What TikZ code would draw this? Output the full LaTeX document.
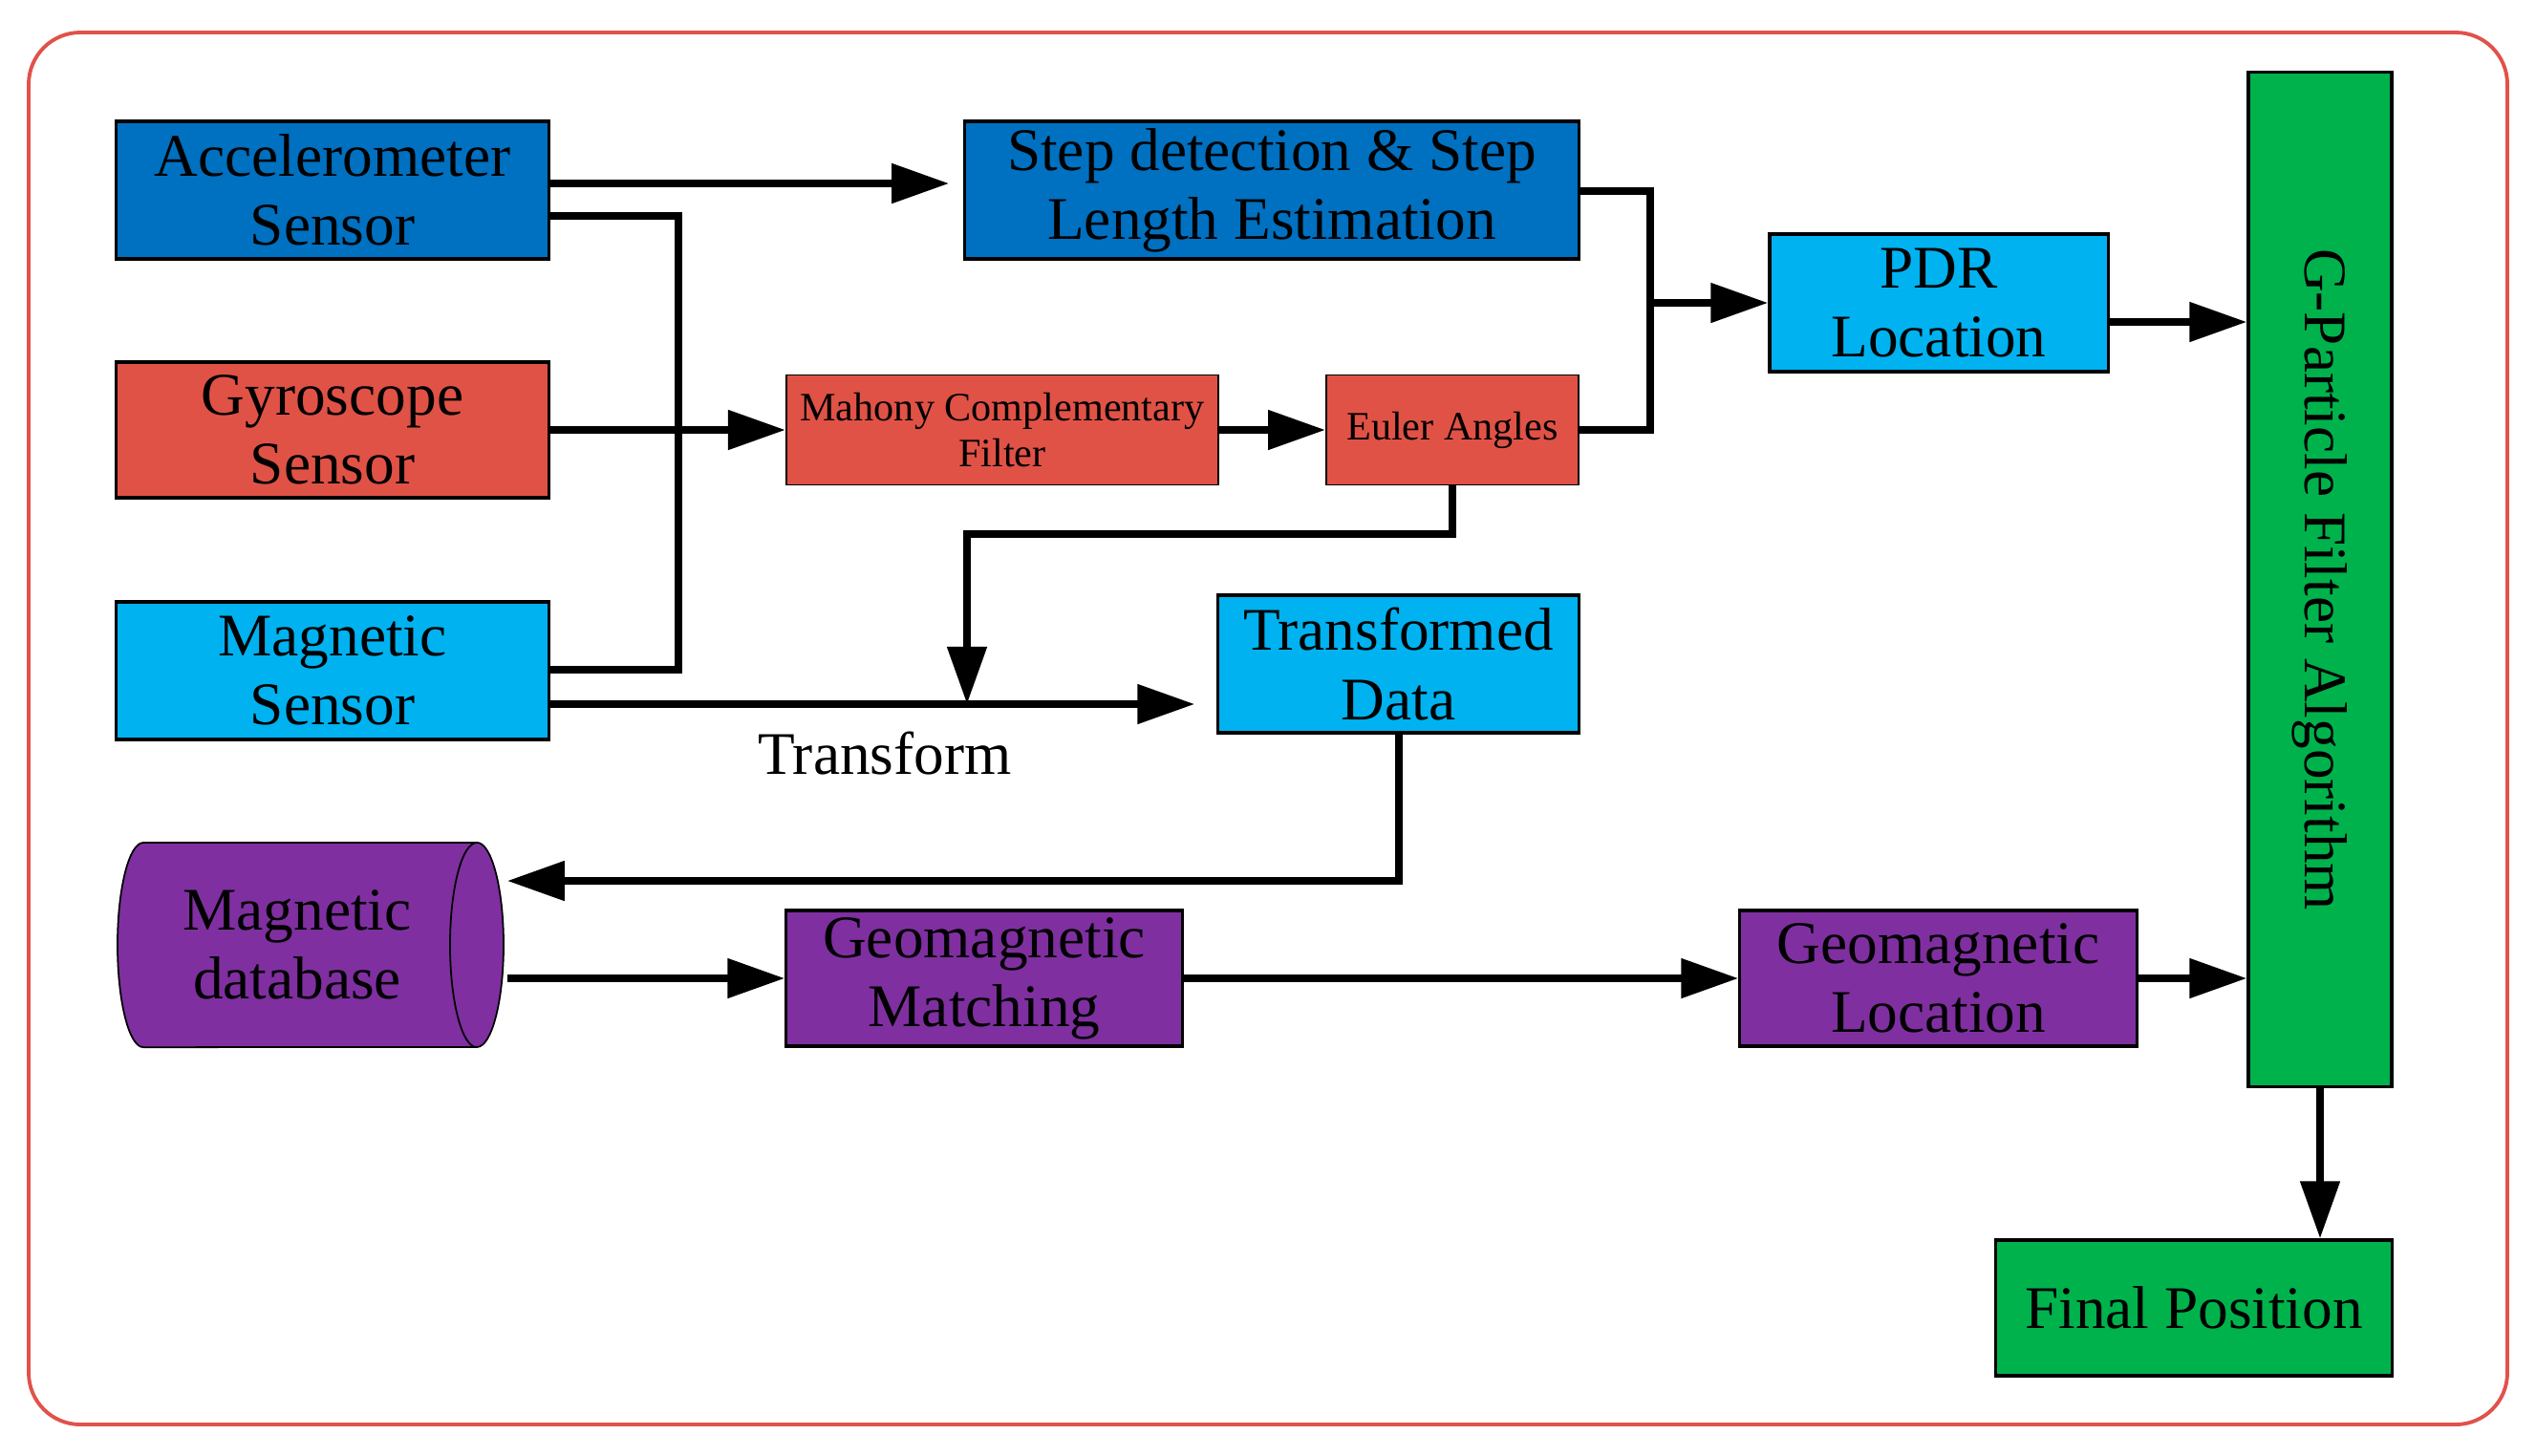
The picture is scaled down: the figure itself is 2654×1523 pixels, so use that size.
\documentclass[tikz,border=0pt]{standalone}
\usepackage{fontspec}
\setmainfont{Liberation Serif}
\usetikzlibrary{arrows.meta}
\definecolor{cblue}{HTML}{0070C0}
\definecolor{cred}{HTML}{E05246}
\definecolor{clight}{HTML}{00B2F0}
\definecolor{cpurple}{HTML}{7F2FA0}
\definecolor{cgreen}{HTML}{00B24C}
\definecolor{cframe}{HTML}{E0524A}
\newcommand{\bigtxt}{\fontsize{18}{20.5}\selectfont}
\newcommand{\smalltxt}{\fontsize{12}{13.5}\selectfont}
\tikzset{
  box/.style={draw=black, line width=0.9pt, inner sep=0pt, align=center, font=\bigtxt},
  thinbox/.style={draw=black, line width=0.5pt, inner sep=0pt, align=center, font=\smalltxt},
  conn/.style={line width=0.08cm},
  arr/.style={line width=0.08cm, -{Triangle[length=0.6cm, width=0.4cm]}},
}
\begin{document}
\begin{tikzpicture}[x=0.01cm, y=0.01cm]
\useasboundingbox (0,0) rectangle (2654,-1523);
% frame
\draw[cframe, line width=1.1pt, rounded corners=0.54cm] (30,-34) rectangle (2624,-1491);

% nodes
\node[box, fill=cblue, minimum width=4.52cm, minimum height=1.44cm] (acc) at (348,-199) {Accelerometer\\Sensor};
\node[box, fill=cred, minimum width=4.52cm, minimum height=1.42cm] (gyro) at (348,-450) {Gyroscope\\Sensor};
\node[box, fill=clight, minimum width=4.52cm, minimum height=1.44cm] (mag) at (348,-702) {Magnetic\\Sensor};
\node[box, fill=cblue, minimum width=6.42cm, minimum height=1.44cm] (step) at (1331,-199) {Step detection \& Step\\Length Estimation};
\node[thinbox, fill=cred, minimum width=4.52cm, minimum height=1.15cm] (mahony) at (1049,-450) {Mahony Complementary\\Filter};
\node[thinbox, fill=cred, minimum width=2.64cm, minimum height=1.15cm] (euler) at (1520,-450) {Euler Angles};
\node[box, fill=clight, minimum width=3.77cm, minimum height=1.44cm] (trans) at (1463.5,-695) {Transformed\\Data};
\node[box, fill=clight, minimum width=3.54cm, minimum height=1.44cm] (pdr) at (2029,-317) {PDR\\Location};
\node[box, fill=cgreen, minimum width=1.50cm, minimum height=10.61cm] (gpf) at (2428,-606.5) {};
\node[font=\bigtxt, rotate=-90] (gpftext) at (gpf.center) {G-Particle Filter Algorithm};
\node[box, fill=cgreen, minimum width=4.14cm, minimum height=1.42cm] (final) at (2296,-1369) {Final Position};
\node[box, fill=cpurple, minimum width=4.14cm, minimum height=1.42cm] (match) at (1030,-1024) {Geomagnetic\\Matching};
\node[box, fill=cpurple, minimum width=4.15cm, minimum height=1.42cm] (geoloc) at (2028.5,-1024) {Geomagnetic\\Location};

% cylinder database
\filldraw[fill=cpurple, draw=black, line width=0.5pt]
  (150,-882) arc[start angle=90, end angle=270, x radius=0.27cm, y radius=1.07cm]
  -- (499,-1096) arc[start angle=-90, end angle=90, x radius=0.28cm, y radius=1.07cm]
  -- cycle;
\draw[black, line width=0.5pt] (499,-882) arc[start angle=90, end angle=270, x radius=0.28cm, y radius=1.07cm];
\node[inner sep=0pt, minimum width=4.08cm, minimum height=2.14cm, align=center, font=\bigtxt] (db) at (326,-989) {\hspace*{-0.3cm}Magnetic\\\hspace*{-0.3cm}database};

% connectors
\draw[arr, shorten >=0.15cm] (acc.east |- 0,-192) -- (step.west |- 0,-192);
\draw[conn] (acc.east |- 0,-226) -| (710,-701) -- (mag.east |- 0,-701);
\draw[arr] (gyro.east) -- (mahony.west);
\draw[arr] (mahony.east) -- (euler.west);
\coordinate (j1) at (1727,-317);
\draw[conn] (step.east |- 0,-200) -| (j1);
\draw[conn] (euler.east) -| (j1);
\draw[arr] (j1) -- (pdr.west);
\draw[arr] (pdr.east |- 0,-337) -- (gpf.west |- 0,-337);
\coordinate (tj) at (1012,-737);
\draw[arr] (euler.south) |- (1012,-559) -- (tj);
\draw[arr, shorten >=0.23cm] (mag.east |- 0,-737) -- (trans.west |- 0,-737);
\node[font=\bigtxt, inner sep=0pt] (tlabel) at (926,-789) {Transform};
\draw[arr] (trans.south) |- (db.east |- 0,-922);
\draw[arr] (db.east |- 0,-1024) -- (match.west);
\draw[arr] (match.east) -- (geoloc.west);
\draw[arr] (geoloc.east) -- (gpf.west |- geoloc.east);
\draw[arr] (gpf.south) -- (final.north -| gpf.south);
\end{tikzpicture}
\end{document}
